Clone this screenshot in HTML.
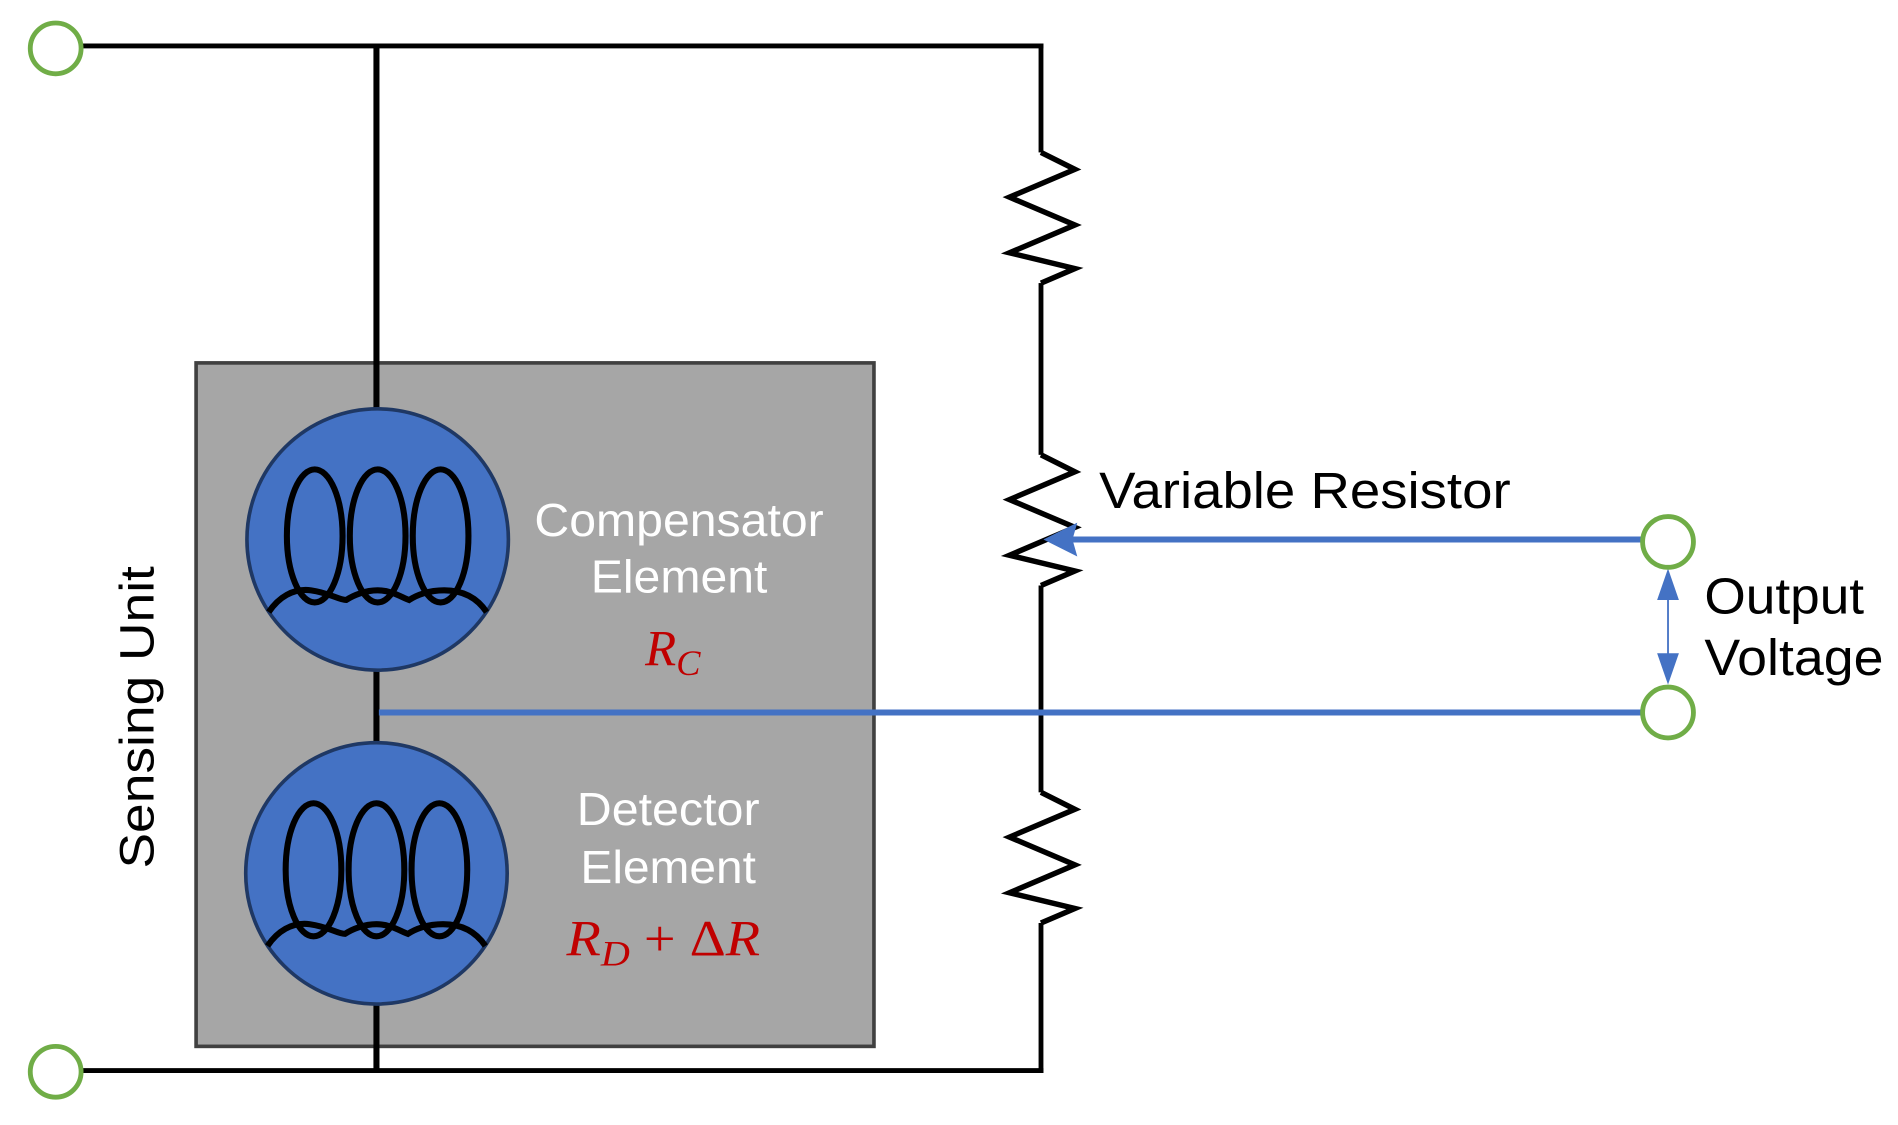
<!DOCTYPE html>
<html><head><meta charset="utf-8"><style>
html,body{margin:0;padding:0;background:#fff}
svg{display:block}
</style></head><body>
<svg width="1898" height="1125" viewBox="0 0 1568 930" preserveAspectRatio="none" xmlns="http://www.w3.org/2000/svg">
<defs>
<g id="coil" fill="none" stroke="#000" stroke-width="5">
<ellipse cx="-52" cy="-3" rx="23" ry="55"/>
<ellipse cx="0" cy="-3" rx="23" ry="55"/>
<ellipse cx="52" cy="-3" rx="23" ry="55"/>
<path d="M-90,60 C-82,48 -70,40 -55,42 C-40,44 -32,50 -26,50 C-20,46 -10,42 0,42 C12,42 20,48 26,50 C32,46 42,42 55,42 C70,42 82,48 90,60"/>
</g>
</defs>
<g stroke="#000" stroke-width="4" fill="none">
<line x1="66" y1="38" x2="862" y2="38"/>
<line x1="66" y1="885" x2="862" y2="885"/>
<line x1="860" y1="36" x2="860" y2="887"/>
</g>
<rect x="162" y="300" width="560" height="565" fill="#a6a6a6" stroke="#404040" stroke-width="3"/>
<g stroke="#000" stroke-width="5">
<line x1="311" y1="38" x2="311" y2="340"/>
<line x1="311" y1="546" x2="311" y2="638"/>
<line x1="311" y1="828" x2="311" y2="885"/>
</g>
<g fill="#fff" stroke="none">
<rect x="850" y="126" width="20" height="108"/>
<rect x="850" y="376" width="20" height="108"/>
<rect x="850" y="655" width="20" height="108"/>
</g>
<g stroke="#000" stroke-width="4.5" fill="none">
<path d="M860,126 L888,140 L834,163 L888,186 L834,209 L888,222 L860,234"/>
<path d="M860,376 L888,390 L834,413 L888,436 L834,459 L888,472 L860,484"/>
<path d="M860,655 L888,669 L834,692 L888,715 L834,738 L888,751 L860,763"/>
</g>
<circle cx="312" cy="446" r="108" fill="#4472c4" stroke="#1f3864" stroke-width="3"/>
<circle cx="311" cy="722" r="108" fill="#4472c4" stroke="#1f3864" stroke-width="3"/>
<use href="#coil" transform="translate(312,446)"/>
<use href="#coil" transform="translate(311,722)"/>
<line x1="313" y1="589" x2="1356" y2="589" stroke="#4472c4" stroke-width="5"/>
<line x1="885" y1="446" x2="1356" y2="446" stroke="#4472c4" stroke-width="5"/>
<polygon points="862,446 890,432 886,446 890,460" fill="#4472c4"/>
<line x1="1378" y1="490" x2="1378" y2="548" stroke="#4472c4" stroke-width="1.5"/>
<polygon points="1378,470 1369,496 1387,496" fill="#4472c4"/>
<polygon points="1378,566 1369,540 1387,540" fill="#4472c4"/>
<g fill="#fff" stroke="#70ad47" stroke-width="4">
<circle cx="46" cy="40" r="21"/>
<circle cx="46" cy="886" r="21"/>
<circle cx="1378" cy="448" r="21"/>
<circle cx="1378" cy="589" r="21"/>
</g>
<g font-family="Liberation Sans, sans-serif">
<text x="908" y="420" font-size="42" fill="#000" textLength="340" lengthAdjust="spacingAndGlyphs">Variable Resistor</text>
<text x="1408" y="507" font-size="42" fill="#000" textLength="132" lengthAdjust="spacingAndGlyphs">Output</text>
<text x="1408" y="558" font-size="42" fill="#000" textLength="148" lengthAdjust="spacingAndGlyphs">Voltage</text>
<g fill="#fff" font-size="38" text-anchor="middle">
<text x="561" y="443" textLength="239" lengthAdjust="spacingAndGlyphs">Compensator</text>
<text x="561" y="490" textLength="146" lengthAdjust="spacingAndGlyphs">Element</text>
<text x="552" y="682" textLength="151" lengthAdjust="spacingAndGlyphs">Detector</text>
<text x="552" y="730" textLength="145" lengthAdjust="spacingAndGlyphs">Element</text>
</g>
<text transform="translate(127,593) rotate(-90)" font-size="40" text-anchor="middle" fill="#000" textLength="250" lengthAdjust="spacingAndGlyphs">Sensing Unit</text>
</g>
<g font-family="Liberation Serif, serif" fill="#c00000" font-style="italic">
<text x="533" y="550" font-size="42">R<tspan font-size="30" dy="8">C</tspan></text>
<text x="468" y="790" font-size="42" textLength="160" lengthAdjust="spacingAndGlyphs">R<tspan font-size="30" dy="8">D</tspan><tspan dy="-8" font-style="normal"> + Δ</tspan>R</text>
</g>
</svg>
</body></html>
